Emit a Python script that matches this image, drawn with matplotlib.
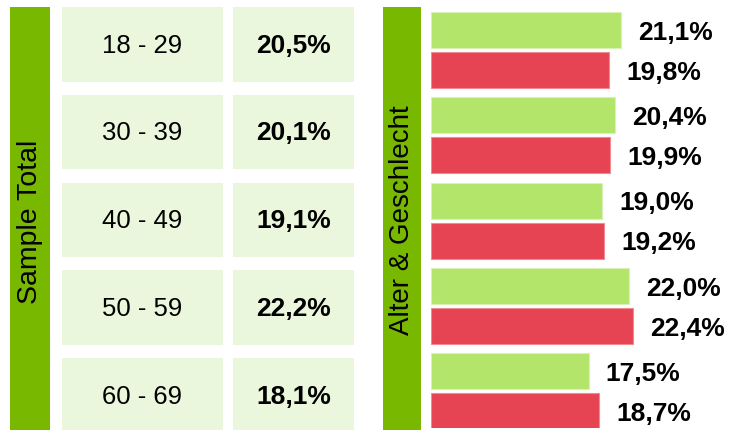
import matplotlib
matplotlib.use("Agg")
import matplotlib.pyplot as plt
from matplotlib.patches import Rectangle

plt.rcParams["font.family"] = ["Liberation Sans", "DejaVu Sans"]

# data
age_groups = ["18 - 29", "30 - 39", "40 - 49", "50 - 59", "60 - 69"]
sample_total = [20.5, 20.1, 19.1, 22.2, 18.1]
male = [21.1, 20.4, 19.0, 22.0, 17.5]     # light green bars
female = [19.8, 19.9, 19.2, 22.4, 18.7]   # red bars
left_title = "Sample Total"
right_title = "Alter & Geschlecht"

DARK = "#78B800"
CELL = "#EBF7DC"
LGREEN = "#B2E56A"
RED = "#E64452"


def pct(v):
    return f"{v:.1f}%".replace(".", ",")


fig = plt.figure(figsize=(7.35, 4.3), dpi=100)

# pixel-space axes for the table part
bg = fig.add_axes([0, 0, 1, 1])
bg.set_xlim(0, 735); bg.set_ylim(430, 0); bg.axis("off")

bg.add_patch(Rectangle((10, 7), 40, 430, color=DARK, lw=0))
bg.text(30, 222, left_title, rotation=90, ha="center", va="center", fontsize=20.5)
bg.add_patch(Rectangle((383, 7), 38, 430, color=DARK, lw=0))
bg.text(402.5, 220, right_title, rotation=90, ha="center", va="center", fontsize=20)

pitch, h = 87.75, 74.5
for i, (g, v) in enumerate(zip(age_groups, sample_total)):
    top = 7 + i * pitch
    bg.add_patch(Rectangle((62, top), 161, h, color=CELL, lw=0))
    bg.add_patch(Rectangle((233, top), 121, h, color=CELL, lw=0))
    bg.text(142.5, top + h / 2 + 1.5, g, ha="center", va="center", fontsize=18.5)
    bg.text(293.5, top + h / 2 + 1.5, pct(v), ha="center", va="center",
            fontsize=19, fontweight="bold")

# bar axes: x from 431px to 735px, y from 12px to 428px
W, H = 735, 430
ax = fig.add_axes([431 / W, (H - 428) / H, (735 - 431) / W, 416 / H])
ax.set_xlim(0, 304 / 9.0)
ax.set_ylim(416, 0)
ax.axis("off")

gpitch, bh = 85.25, 36
for i, (m, f) in enumerate(zip(male, female)):
    ym = i * gpitch + bh / 2
    yf = i * gpitch + 40 + bh / 2
    ax.barh(ym, m, height=bh, color=LGREEN, edgecolor="#D8F2B4", lw=0.8)
    ax.barh(yf, f, height=bh, color=RED, edgecolor="#F08A93", lw=0.8)
    for y, v in ((ym, m), (yf, f)):
        ax.annotate(pct(v), (v, y), xytext=(12.5, -2), textcoords="offset points",
                    ha="left", va="center", fontsize=19, fontweight="bold",
                    annotation_clip=False)

fig.savefig("out.png", dpi=100)
